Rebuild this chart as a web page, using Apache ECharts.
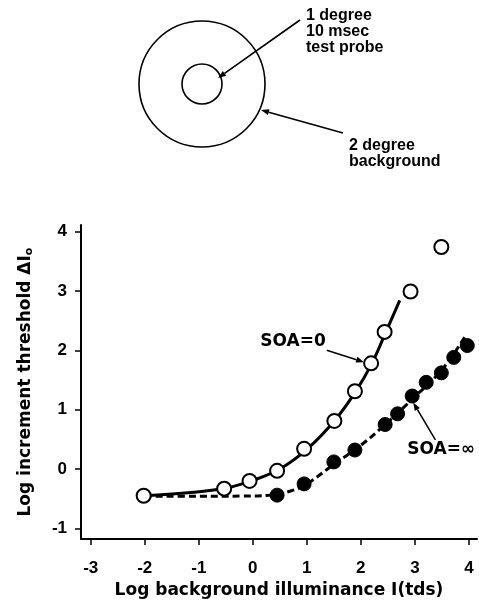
<!DOCTYPE html>
<html>
<head>
<meta charset="utf-8">
<script src="https://cdn.jsdelivr.net/npm/echarts@6/dist/echarts.min.js"></script>
<style>
  html, body { margin: 0; padding: 0; background: #fff; }
  #c { width: 479px; height: 604px; }
</style>
</head>
<body>
<div id="c"></div>
<script>
// Tick values shown on each axis
const xTicks = [-3, -2, -1, 0, 1, 2, 3, 4];
const yTicks = [-1, 0, 1, 2, 3, 4];

// Measured thresholds, SOA = 0 (open circles)
const soa0Points = [
  [-2.02, -0.45], [-0.53, -0.33], [-0.06, -0.20], [0.45, -0.03], [0.95, 0.34],
  [1.51, 0.81], [1.89, 1.31], [2.19, 1.78], [2.44, 2.31], [2.92, 2.99], [3.49, 3.74]
];
// Measured thresholds, SOA = infinity (filled circles)
const soaInfPoints = [
  [0.45, -0.44], [0.95, -0.25], [1.50, 0.12], [1.89, 0.32], [2.45, 0.75],
  [2.68, 0.93], [2.95, 1.23], [3.21, 1.46], [3.49, 1.62], [3.72, 1.88], [3.97, 2.08]
];
// Fitted curves
const soa0Curve = [
  [-2.0, -0.45], [-1.2, -0.40], [-0.5, -0.32], [0.0, -0.19], [0.5, 0.0],
  [1.0, 0.33], [1.5, 0.80], [1.9, 1.30], [2.2, 1.77], [2.45, 2.28], [2.72, 2.84]
];
const soaInfCurve = [
  [-2.0, -0.46], [-1.0, -0.46], [-0.2, -0.455], [0.3, -0.44], [0.7, -0.37],
  [1.0, -0.25], [1.5, 0.08], [2.0, 0.40], [2.5, 0.79], [3.0, 1.22], [3.5, 1.67], [3.92, 2.22]
];

// Labels with arrows pointing at the curves (data coordinates)
const curveLabels = [
  { text: 'SOA=0', at: [0.14, 2.15], from: [1.37, 2.00], to: [2.06, 1.80] },
  { text: 'SOA=\u221E', at: [2.86, 0.33], from: [3.38, 0.49], to: [2.97, 1.12] }
];

const titleFont = 'DejaVu Sans';
const tickFont = 'Liberation Sans';

const chart = echarts.init(document.getElementById('c'));

chart.setOption({
  animation: false,
  backgroundColor: '#fff',
  grid: { left: 81, right: 2, top: 225, bottom: 64, containLabel: false },
  xAxis: {
    type: 'value', min: -3.18, max: 4.15,
    axisLine: { show: true, onZero: false, lineStyle: { color: '#000', width: 2 } },
    axisTick: { show: true, customValues: xTicks, length: 6, lineStyle: { color: '#000', width: 1.5 } },
    axisLabel: { customValues: xTicks, margin: 21, color: '#000', fontWeight: 'bold', fontSize: 17, fontFamily: tickFont },
    splitLine: { show: false },
    name: 'Log background illuminance I(tds)',
    nameLocation: 'middle', nameGap: 38,
    nameTextStyle: { color: '#000', fontWeight: 'bold', fontSize: 17, fontFamily: titleFont }
  },
  yAxis: {
    type: 'value', min: -1.18, max: 4.11,
    axisLine: { show: true, onZero: false, lineStyle: { color: '#000', width: 2 } },
    axisTick: { show: true, customValues: yTicks, length: 6, lineStyle: { color: '#000', width: 1.5 } },
    axisLabel: { customValues: yTicks, margin: 14, color: '#000', fontWeight: 'bold', fontSize: 17, fontFamily: tickFont },
    splitLine: { show: false },
    name: 'Log increment threshold \u0394I{sub|o}',
    nameLocation: 'middle', nameGap: 46,
    nameTextStyle: {
      color: '#000', fontWeight: 'bold', fontSize: 17, fontFamily: titleFont,
      rich: { sub: { fontSize: 11, fontWeight: 'bold', fontFamily: titleFont, color: '#000', verticalAlign: 'bottom', padding: [7, 0, 0, 0] } }
    }
  },
  series: [
    {
      name: 'SOA=0 fit', type: 'line', data: soa0Curve, smooth: 0.4,
      showSymbol: false, symbol: 'none', z: 2,
      lineStyle: { color: '#000', width: 3 }
    },
    {
      name: 'SOA=inf fit', type: 'line', data: soaInfCurve, smooth: 0.4,
      showSymbol: false, symbol: 'none', z: 2,
      lineStyle: { color: '#000', width: 3, type: [7, 4] }
    },
    {
      name: 'SOA=0', type: 'scatter', data: soa0Points, symbol: 'circle', symbolSize: 14, z: 4,
      itemStyle: { color: '#fff', borderColor: '#000', borderWidth: 2, opacity: 1 }
    },
    {
      name: 'SOA=inf', type: 'scatter', data: soaInfPoints, symbol: 'circle', symbolSize: 14, z: 4,
      itemStyle: { color: '#000', borderColor: '#000', borderWidth: 1, opacity: 1 }
    }
  ]
});

// Line with a filled arrowhead at (x2, y2)
function arrow(x1, y1, x2, y2, width, headLen, headW) {
  const dx = x2 - x1, dy = y2 - y1;
  const len = Math.sqrt(dx * dx + dy * dy);
  const ux = dx / len, uy = dy / len;
  const bx = x2 - ux * headLen, by = y2 - uy * headLen;
  return [
    { type: 'line', silent: true, shape: { x1: x1, y1: y1, x2: bx, y2: by },
      style: { stroke: '#000', lineWidth: width } },
    { type: 'polygon', silent: true,
      shape: { points: [[x2, y2], [bx - uy * headW, by + ux * headW], [bx + uy * headW, by - ux * headW]] },
      style: { fill: '#000' } }
  ];
}

const graphics = [];

// Stimulus layout: 2 degree background with 1 degree test probe
const diag = { cx: 202, cy: 84, rOuter: 63, rInner: 20 };
graphics.push(
  { type: 'circle', silent: true, shape: { cx: diag.cx, cy: diag.cy, r: diag.rOuter },
    style: { fill: 'none', stroke: '#000', lineWidth: 1.6 } },
  { type: 'circle', silent: true, shape: { cx: diag.cx, cy: diag.cy, r: diag.rInner },
    style: { fill: 'none', stroke: '#000', lineWidth: 1.6 } },
  { type: 'text', silent: true, left: 306, top: 8,
    style: { text: '1 degree\n10 msec\ntest probe', fill: '#000', lineHeight: 16,
      font: 'bold 16px "Liberation Sans"' } },
  { type: 'text', silent: true, left: 349, top: 138,
    style: { text: '2 degree\nbackground', fill: '#000', lineHeight: 16,
      font: 'bold 16px "Liberation Sans"' } }
);
graphics.push(...arrow(300, 20, 218, 78, 1.6, 8, 3));
graphics.push(...arrow(343, 133, 261, 110, 1.6, 8, 3));

// Curve labels
curveLabels.forEach(function (c) {
  const p = chart.convertToPixel({ gridIndex: 0 }, c.at);
  const a = chart.convertToPixel({ gridIndex: 0 }, c.from);
  const b = chart.convertToPixel({ gridIndex: 0 }, c.to);
  graphics.push({ type: 'text', silent: true, x: p[0], y: p[1], z: 10,
    style: { text: c.text, fill: '#000', font: 'bold 17px "DejaVu Sans"', verticalAlign: 'middle', align: 'left' } });
  graphics.push(...arrow(a[0], a[1], b[0], b[1], 1.5, 8, 3));
});

chart.setOption({ graphic: graphics });
</script>
</body>
</html>
